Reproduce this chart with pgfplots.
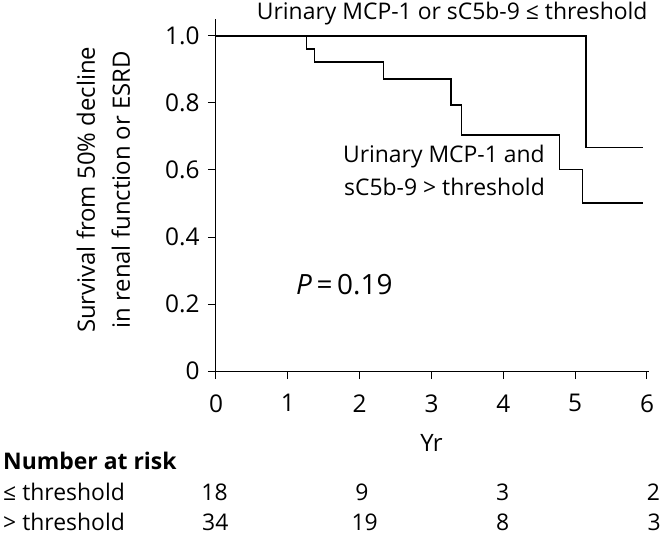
\documentclass[border=0pt]{standalone}
\usepackage{fontspec}
\setmainfont{Open Sans}
\usepackage{pgfplots}
\pgfplotsset{compat=1.18}

\begin{document}
\begin{tikzpicture}
\begin{axis}[
    x=71.83bp, y=335bp,
    xmin=0, xmax=6.03,
    ymin=0, ymax=1.05,
    axis lines*=left,
    clip=false,
    xtick={0,1,2,3,4,5,6},
    ytick={0,0.2,0.4,0.6,0.8,1.0},
    yticklabels={0,0.2,0.4,0.6,0.8,1.0},
    /pgf/number format/assume math mode=true,
    tick align=outside,
    major tick length=8bp,
    tick style={line width=1bp, black},
    axis line style={line width=1bp},
    tick label style={font=\fontsize{24.5}{28}\selectfont},
    yticklabel style={xshift=-5bp},
    xticklabel style={yshift=-12bp},
    xlabel={Yr},
    xlabel style={at={(axis description cs:0.4975,-0.230)}, anchor=base},
    ylabel={Survival from 50\% decline\\in renal function or ESRD},
    ylabel style={align=center, at={(axis description cs:-0.26,0.515)}, anchor=center},
    label style={font=\fontsize{24}{35}\selectfont},
]
% <= threshold
\addplot[const plot, line width=1.6bp, black] coordinates {
    (0,1.0) (5.15,0.667) (5.95,0.667)
};
% > threshold
\addplot[const plot, line width=1.6bp, black] coordinates {
    (0,1.0) (1.26,0.962) (1.37,0.923) (2.33,0.872) (3.27,0.794)
    (3.42,0.704) (4.78,0.602) (5.10,0.502) (5.95,0.502)
};
\coordinate (o) at (axis cs:0,0);
\begin{scope}[font=\fontsize{23}{27}\selectfont, inner sep=0pt]
\node[anchor=base east] at (axis cs:6.01,1.048) {Urinary MCP-1 or sC5b-9 ≤ threshold};
\node[anchor=base east] at (axis cs:4.58,0.621) {Urinary MCP-1 and};
\node[anchor=base east] at (axis cs:4.58,0.525) {sC5b-9 > threshold};
\node[anchor=base west, font=\fontsize{28}{32}\selectfont] at (axis cs:1.114,0.227) {\textit{P}\,=\,0.19};
% number at risk
\node[anchor=base west] at (axis cs:-2.965,-0.293) {\textbf{Number at risk}};
\node[anchor=base west] at (axis cs:-2.965,-0.387) {≤ threshold};
\node[anchor=base west] at (axis cs:-2.965,-0.476) {> threshold};
\node[anchor=base] at (axis cs:-0.02,-0.387) {18};
\node[anchor=base] at (axis cs:2.03,-0.387) {9};
\node[anchor=base] at (axis cs:3.99,-0.387) {3};
\node[anchor=base] at (axis cs:6.09,-0.387) {2};
\node[anchor=base] at (axis cs:-0.01,-0.476) {34};
\node[anchor=base] at (axis cs:2.07,-0.476) {19};
\node[anchor=base] at (axis cs:3.99,-0.476) {8};
\node[anchor=base] at (axis cs:6.10,-0.476) {3};
\end{scope}
\end{axis}
\path[use as bounding box] ([shift={(-216bp,-165bp)}]o) rectangle ([shift={(448bp,371bp)}]o);
\end{tikzpicture}
\end{document}
